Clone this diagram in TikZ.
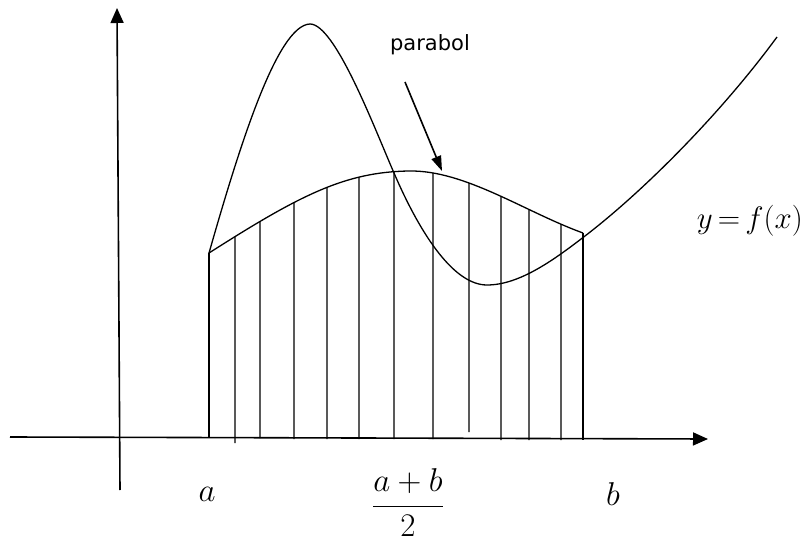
\RequirePackage{fix-cm}
\documentclass[tikz,border=0pt]{standalone}
\usepackage{fontspec}
\newfontfamily\labelfont{DejaVu Sans}
\usetikzlibrary{arrows.meta,intersections}
\begin{document}
\begin{tikzpicture}[x=1pt,y=-1pt,
  axis/.style={line width=1.6pt,-{Triangle[length=15pt,width=13pt]}},
  curve/.style={line width=1.3pt,line join=round},
  strip/.style={line width=1.3pt},
  mathlbl/.style={font=\fontsize{33}{38}\selectfont,inner sep=0pt},
  pointer/.style={line width=1.6pt,-{Triangle[length=15pt,width=10pt]}}]
\useasboundingbox (0,0) rectangle (806,545);
% axes
\coordinate (xl) at (10,437);
\coordinate (xr) at (708,439);
\coordinate (yb) at (120,490);
\coordinate (yt) at (117,8);
\draw[axis] (xl) -- (xr);
\draw[axis] (yb) -- (yt);
% parabola
\coordinate (pl) at (209,253);
\coordinate (pr) at (583,233);
\draw[curve,name path=par] (pl) .. controls (300,195) and (345,172) .. (409,171)
  .. controls (465,170) and (525,212) .. (pr);
% strips under the parabola
\draw[strip] (pl) -- (209,438);
\draw[strip] (pr) -- (583,440);
\foreach \x/\b [count=\i] in {235/443, 260/438, 294/439, 327/439, 359/439, 394/439,
  433/439, 469/432, 501/440, 529/440, 561/440} {
  \path[name path=v\i] (\x,120) -- (\x,460);
  \path[name intersections={of=par and v\i, by=t\i}];
  \draw[strip] (t\i) -- (\x,\b);
}
% y = f(x)
\coordinate (fpk) at (310,24);
\coordinate (fx1) at (394,173);
\coordinate (fmin) at (487,285);
\coordinate (fx2) at (585,236);
\coordinate (fend) at (777,37);
\draw[curve] (pl) .. controls (239,148) and (277,25) .. (fpk)
  .. controls (335,24) and (374,127) .. (fx1)
  .. controls (422,238) and (455,285) .. (fmin)
  .. controls (520,285) and (555,259) .. (fx2)
  .. controls (645,190) and (722,112) .. (fend);
% labels
\node[font=\labelfont\fontsize{21}{25}\selectfont,inner sep=0pt] (lbl) at (430,45) {parabol};
\coordinate (ps) at (405,82);
\coordinate (pe) at (442,171);
\draw[pointer] (ps) -- (pe);
\node[font=\fontsize{31}{36}\selectfont,inner sep=0pt,anchor=base east] (fx) at (803,229) {\thickmuskip=3mu$y=f(x)$};
\node[mathlbl,anchor=base] (la) at (207,501) {$a$};
\node[mathlbl,anchor=base] (lb) at (613,505) {$b$};
\node[mathlbl] (lm) at (408,503) {$\displaystyle\frac{a+b}{2}$};
\end{tikzpicture}
\end{document}
